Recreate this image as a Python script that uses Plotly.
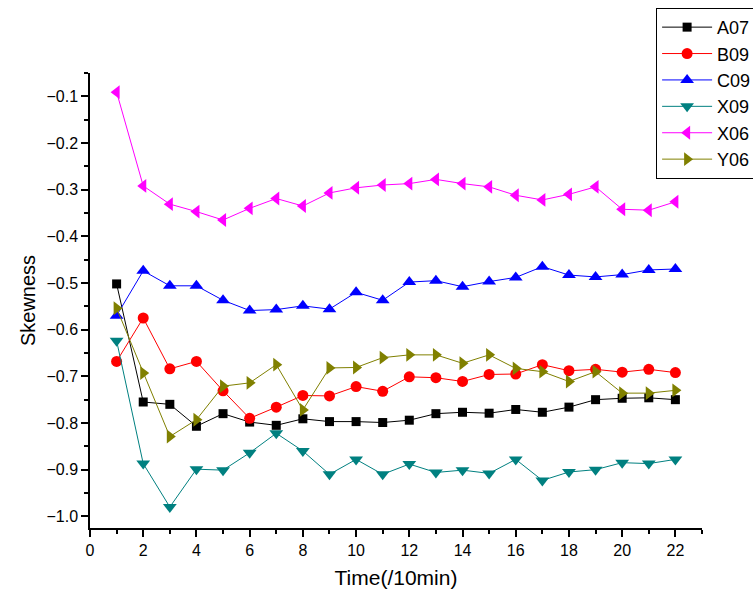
import plotly.graph_objects as go

time = list(range(1, 23))

A07 = [-0.502, -0.755, -0.760, -0.807, -0.780, -0.798, -0.805, -0.791, -0.797, -0.797, -0.799,
       -0.794, -0.780, -0.777, -0.779, -0.771, -0.777, -0.766, -0.750, -0.747, -0.746, -0.750]
B09 = [-0.668, -0.575, -0.684, -0.668, -0.731, -0.790, -0.766, -0.741, -0.742, -0.722, -0.732,
       -0.701, -0.703, -0.711, -0.696, -0.695, -0.675, -0.688, -0.685, -0.691, -0.685, -0.692]
C09 = [-0.570, -0.474, -0.506, -0.506, -0.537, -0.559, -0.557, -0.549, -0.556, -0.520, -0.537,
       -0.498, -0.495, -0.508, -0.497, -0.488, -0.465, -0.483, -0.487, -0.482, -0.472, -0.470]
X09 = [-0.624, -0.887, -0.980, -0.899, -0.901, -0.864, -0.822, -0.860, -0.910, -0.878, -0.910,
       -0.888, -0.906, -0.901, -0.908, -0.878, -0.923, -0.905, -0.900, -0.885, -0.887, -0.878]
X06 = [-0.091, -0.292, -0.331, -0.347, -0.365, -0.340, -0.319, -0.335, -0.307, -0.296, -0.290,
       -0.287, -0.278, -0.287, -0.294, -0.312, -0.322, -0.310, -0.294, -0.342, -0.344, -0.326]
Y06 = [-0.554, -0.693, -0.829, -0.793, -0.721, -0.714, -0.675, -0.772, -0.682, -0.681, -0.660,
       -0.654, -0.654, -0.672, -0.654, -0.683, -0.690, -0.711, -0.690, -0.736, -0.736, -0.730]

series = [
    ("A07", A07, "#000000", "square", 9),
    ("B09", B09, "#FF0000", "circle", 11),
    ("C09", C09, "#0000FF", "triangle-up", 12),
    ("X09", X09, "#008080", "triangle-down", 12),
    ("X06", X06, "#FF00FF", "triangle-left", 12),
    ("Y06", Y06, "#808000", "triangle-right", 12),
]

FONT = "Arial, 'Liberation Sans', sans-serif"

fig = go.Figure()
for name, vals, color, sym, size in series:
    fig.add_trace(go.Scatter(
        x=time, y=vals, name=name, mode="lines+markers",
        line=dict(color=color, width=1),
        marker=dict(symbol=sym, size=size, color=color, line=dict(width=0)),
    ))

fig.update_layout(
    width=753, height=599,
    margin=dict(l=90, r=51, t=73, b=71, autoexpand=False),
    paper_bgcolor="white", plot_bgcolor="white",
    font=dict(family=FONT, color="black", size=16),
    showlegend=True,
    legend=dict(
        x=0.925, y=1.143, xanchor="left", yanchor="top",
        bordercolor="black", borderwidth=1, bgcolor="white",
        font=dict(size=18, family=FONT),
        itemwidth=50, tracegroupgap=0,
    ),
)

fig.update_xaxes(
    range=[0, 23], tick0=0, dtick=2,
    showline=True, linecolor="black", linewidth=1.5,
    showgrid=False, zeroline=False,
    ticks="outside", ticklen=7, tickwidth=1.5, tickcolor="black",
    minor=dict(dtick=1, ticks="outside", ticklen=4, tickwidth=1.5, tickcolor="black", showgrid=False),
    tickfont=dict(size=16),
    title=dict(text="Time(/10min)", font=dict(size=21), standoff=12),
)
fig.update_yaxes(
    range=[-1.025, -0.05], tick0=0, dtick=0.1, tickformat=".1f",
    showline=True, linecolor="black", linewidth=1.5,
    showgrid=False, zeroline=False,
    ticks="outside", ticklen=7, tickwidth=1.5, tickcolor="black",
    minor=dict(dtick=0.05, ticks="outside", ticklen=4, tickwidth=1.5, tickcolor="black", showgrid=False),
    tickfont=dict(size=16),
    title=dict(text="Skewness", font=dict(size=20), standoff=5),
)

fig.write_html("out.html")
